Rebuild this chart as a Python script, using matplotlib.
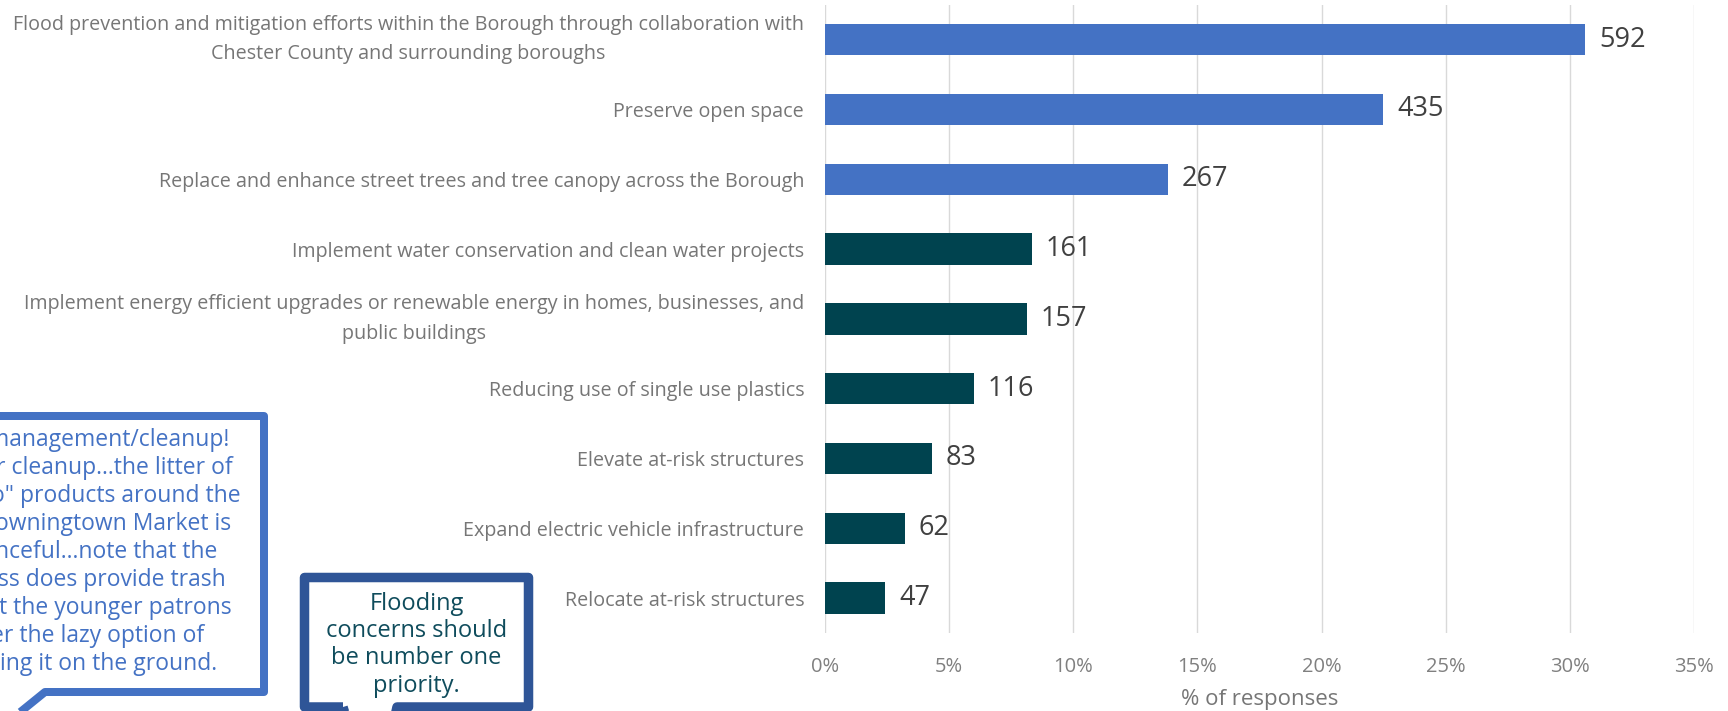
import matplotlib
matplotlib.use("Agg")
import matplotlib.pyplot as plt
from matplotlib.lines import Line2D
import numpy as np

# ---------------- data ----------------
categories = [
    "Flood prevention and mitigation efforts within the Borough through collaboration with\nChester County and surrounding boroughs",
    "Preserve open space",
    "Replace and enhance street trees and tree canopy across the Borough",
    "Implement water conservation and clean water projects",
    "Implement energy efficient upgrades or renewable energy in homes, businesses, and\npublic buildings",
    "Reducing use of single use plastics",
    "Elevate at-risk structures",
    "Expand electric vehicle infrastructure",
    "Relocate at-risk structures",
]
counts = [592, 435, 267, 161, 157, 116, 83, 62, 47]
total_responses = 1934  # estimated from bar lengths vs. % axis
x_ticks = [0, 0.05, 0.10, 0.15, 0.20, 0.25, 0.30, 0.35]
x_tick_labels = ["0%", "5%", "10%", "15%", "20%", "25%", "30%", "35%"]
x_label = "% of responses"

callout1_lines = [
    "management/cleanup!",
    "r cleanup...the litter of",
    "o\" products around the",
    "owningtown Market is",
    "nceful...note that the",
    "ss does provide trash",
    "t the younger patrons",
    "er the lazy option of",
    "ing it on the ground.",
]
callout2_lines = ["Flooding", "concerns should", "be number one", "priority."]

# ---------------- style ----------------
plt.rcParams["font.family"] = ["Open Sans", "DejaVu Sans"]
BLUE = "#4472C4"
TEAL = "#00434F"
bar_colors = [BLUE] * 3 + [TEAL] * 6

W, H = 1728, 711
DPI = 100
fig = plt.figure(figsize=(W / DPI, H / DPI), dpi=DPI)
fig.patch.set_facecolor("white")

def fx(x):
    return x / W

def fy(y):
    return 1 - y / H

ax_left, ax_right = 825, 1694
ax_top, ax_bottom = 4.7, 633
ax = fig.add_axes([fx(ax_left), fy(ax_bottom), fx(ax_right - ax_left), (ax_bottom - ax_top) / H])

pct = np.array(counts) / total_responses
ypos = np.arange(len(categories))
bars = ax.barh(ypos, pct, height=0.45, color=bar_colors, zorder=3)
ax.set_ylim(len(categories) - 0.5, -0.5)
ax.set_xlim(0, 0.35)

ax.bar_label(bars, labels=[str(c) for c in counts], padding=10,
             fontsize=19.5, color="#404040", zorder=4)

ax.set_yticks(ypos)
ax.set_yticklabels(categories, fontsize=14.2, color="#767676", ha="right",
                   multialignment="center", linespacing=1.65)
for lab in ax.get_yticklabels():
    if "\n" in lab.get_text():
        lab.set_va("center")
ax.set_xticks(x_ticks)
ax.set_xticklabels(x_tick_labels, fontsize=14.5, color="#808080")
ax.tick_params(axis="both", length=0)
ax.tick_params(axis="y", pad=15)
ax.tick_params(axis="x", pad=17)
ax.set_xlabel(x_label, fontsize=16, color="#767676", labelpad=9)

ax.grid(axis="x", color="#D9D9D9", linewidth=1.0, zorder=0)
ax.set_axisbelow(True)
for s in ax.spines.values():
    s.set_visible(False)

# ---------------- callouts ----------------
lw1 = 8 * 72 / DPI
path1 = [(-30, 416), (264, 416), (264, 692), (45, 692), (8, 722)]
fig.add_artist(Line2D([fx(p[0]) for p in path1], [fy(p[1]) for p in path1],
                      transform=fig.transFigure, color=BLUE, linewidth=lw1,
                      solid_joinstyle="round", solid_capstyle="butt", clip_on=False))

rights1 = [229, 233, 241, 231, 217, 226, 232, 204, 217]
y0, pitch = 440, 28.0
for i, (txt, r) in enumerate(zip(callout1_lines, rights1)):
    fig.text(fx(r), fy(y0 + i * pitch), txt, ha="right", va="center",
             fontsize=16.5, color=BLUE)

lw2 = 9.5 * 72 / DPI
path2 = [(343, 707), (304.5, 707), (304.5, 577.5), (528.5, 577.5), (528.5, 707), (397, 707), (392, 730)]
fig.add_artist(Line2D([fx(p[0]) for p in path2], [fy(p[1]) for p in path2],
                      transform=fig.transFigure, color="#2F5597", linewidth=lw2,
                      solid_joinstyle="round", solid_capstyle="butt", clip_on=False))
fig.add_artist(Line2D([fx(343), fx(350)], [fy(707), fy(730)],
                      transform=fig.transFigure, color="#2F5597", linewidth=lw2,
                      solid_capstyle="butt", clip_on=False))

ys2 = [604, 631, 658, 686]
for txt, yy in zip(callout2_lines, ys2):
    fig.text(fx(416.5), fy(yy), txt, ha="center", va="center",
             fontsize=17, color="#0F4C5C")

fig.savefig("out.png", dpi=DPI, facecolor="white")
